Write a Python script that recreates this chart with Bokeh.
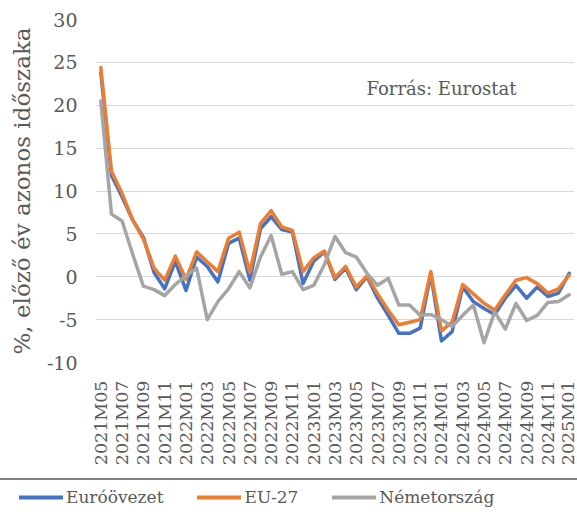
from bokeh.plotting import figure
from bokeh.layouts import column
from bokeh.models import (ColumnDataSource, FixedTicker, Legend, LegendItem,
                          Label, Range1d, Spacer)
from bokeh.embed import file_html
from bokeh.resources import INLINE
import math

months = ["2021M05", "2021M06", "2021M07", "2021M08", "2021M09", "2021M10",
          "2021M11", "2021M12", "2022M01", "2022M02", "2022M03", "2022M04",
          "2022M05", "2022M06", "2022M07", "2022M08", "2022M09", "2022M10",
          "2022M11", "2022M12", "2023M01", "2023M02", "2023M03", "2023M04",
          "2023M05", "2023M06", "2023M07", "2023M08", "2023M09", "2023M10",
          "2023M11", "2023M12", "2024M01", "2024M02", "2024M03", "2024M04",
          "2024M05", "2024M06", "2024M07", "2024M08", "2024M09", "2024M10",
          "2024M11", "2024M12", "2025M01"]

euro = [23.8, 11.8, 9.3, 6.6, 4.6, 0.5, -1.4, 1.8, -1.6, 2.3, 1.2, -0.6,
        3.9, 4.5, -0.4, 5.6, 7.0, 5.5, 5.2, -0.8, 1.8, 2.9, -0.3, 1.0,
        -1.5, 0.0, -2.5, -4.5, -6.6, -6.6, -6.0, 0.3, -7.5, -6.4, -1.2, -2.9,
        -3.7, -4.4, -2.5, -1.0, -2.5, -1.2, -2.3, -1.9, 0.4]

eu27 = [24.4, 12.3, 9.7, 6.6, 4.4, 1.0, -0.4, 2.4, -0.3, 2.9, 1.75, 0.6,
        4.5, 5.2, 0.5, 6.2, 7.7, 5.8, 5.4, 0.6, 2.2, 3.0, -0.1, 1.2,
        -1.2, 0.1, -2.0, -3.9, -5.6, -5.3, -5.0, 0.6, -6.3, -5.3, -0.9, -2.0,
        -3.1, -3.9, -2.1, -0.4, -0.1, -0.8, -1.9, -1.4, 0.2]

germany = [20.5, 7.3, 6.5, 2.6, -1.1, -1.5, -2.2, -0.9, 0.1, 1.0, -5.0, -2.9,
           -1.4, 0.6, -1.3, 2.3, 4.8, 0.3, 0.6, -1.5, -1.0, 1.4, 4.7, 2.8,
           2.3, 0.4, -1.0, -0.2, -3.3, -3.3, -4.5, -4.4, -5.0, -5.8, -4.5, -3.3,
           -7.7, -4.1, -6.1, -3.1, -5.1, -4.5, -3.0, -2.9, -2.1]

series_names = ["Euróövezet", "EU-27", "Németország"]
series_colors = ["#4472C4", "#ED7D31", "#A5A5A5"]
y_ticks = [-10, -5, 0, 5, 10, 15, 20, 25, 30]
y_tick_labels = ["-10", "-5", "0", "5", "10", "15", "20", "25", "30"]

FONT = "DejaVu Serif"
TXT = "#595959"

idx = list(range(len(months)))
src = ColumnDataSource(dict(x=idx, euro=euro, eu27=eu27, germany=germany))
cols = ["euro", "eu27", "germany"]

# ---------------- main chart ----------------
p = figure(width=577, height=478, output_backend="svg", toolbar_location=None,
           x_range=(-0.5, len(months) - 0.5), y_range=(-10, 30),
           min_border_left=95, min_border_right=3, min_border_top=19,
           min_border_bottom=116)
p.outline_line_color = None

for c, col in zip(cols, series_colors):
    p.line("x", c, source=src, line_color=col, line_width=3.5,
           line_join="round", line_cap="round")

p.xgrid.grid_line_color = None
p.ygrid.grid_line_color = "#D9D9D9"
p.ygrid.grid_line_width = 1
p.yaxis.ticker = FixedTicker(ticks=y_ticks)
p.yaxis.major_label_overrides = dict(zip(y_ticks, y_tick_labels))
p.yaxis.axis_line_color = None
p.yaxis.major_tick_line_color = None
p.yaxis.minor_tick_line_color = None
p.yaxis.major_label_text_font = FONT
p.yaxis.major_label_text_font_size = "19px"
p.yaxis.major_label_text_color = TXT
p.yaxis.major_label_standoff = 12
p.yaxis.axis_label = "%, előző év azonos időszaka"
p.yaxis.axis_label_text_font = FONT
p.yaxis.axis_label_text_font_size = "23px"
p.yaxis.axis_label_text_font_style = "normal"
p.yaxis.axis_label_text_color = TXT
p.yaxis.axis_label_standoff = 9

p.xaxis.ticker = FixedTicker(ticks=idx[::2])
p.xaxis.major_label_overrides = {i: months[i] for i in idx[::2]}
p.xaxis.major_label_orientation = math.pi / 2
p.xaxis.axis_line_color = None
p.xaxis.major_tick_line_color = None
p.xaxis.minor_tick_line_color = None
p.xaxis.major_label_text_font = FONT
p.xaxis.major_label_text_font_size = "17.5px"
p.xaxis.major_label_text_color = TXT
p.xaxis.major_label_standoff = 12

p.add_layout(Label(x=24.96, y=22.0, text="Forrás: Eurostat", text_font=FONT,
                   text_font_size="18px", text_color=TXT,
                   text_baseline="alphabetic", text_align="left"))

# ---------------- separator ----------------
sep = Spacer(width=577, height=2, margin=0,
             styles={"background-color": "#808080"})

# ---------------- legend strip ----------------
p2 = figure(width=577, height=32, output_backend="svg", toolbar_location=None,
            x_range=Range1d(1000, 1001), y_range=Range1d(0, 1),
            x_axis_type=None, y_axis_type=None,
            min_border_left=19, min_border_right=0, min_border_top=0,
            min_border_bottom=0)
p2.outline_line_color = None
p2.grid.visible = False

rs = []
for c, col in zip(cols, series_colors):
    rs.append(p2.line("x", c, source=src, line_color=col, line_width=4,
                      line_cap="round"))

legend = Legend(items=[LegendItem(label=n, renderers=[r])
                       for n, r in zip(series_names, rs)],
                orientation="horizontal", location=(0, 5),
                label_text_font=FONT, label_text_font_size="17px",
                label_text_color=TXT, glyph_width=44, glyph_height=20,
                label_standoff=3, spacing=34, padding=0, margin=0,
                background_fill_alpha=0, border_line_color=None)
p2.add_layout(legend, "center")

layout = column(p, column(sep, p2, spacing=0), spacing=0)
open("out.html", "w").write(file_html(layout, INLINE))
